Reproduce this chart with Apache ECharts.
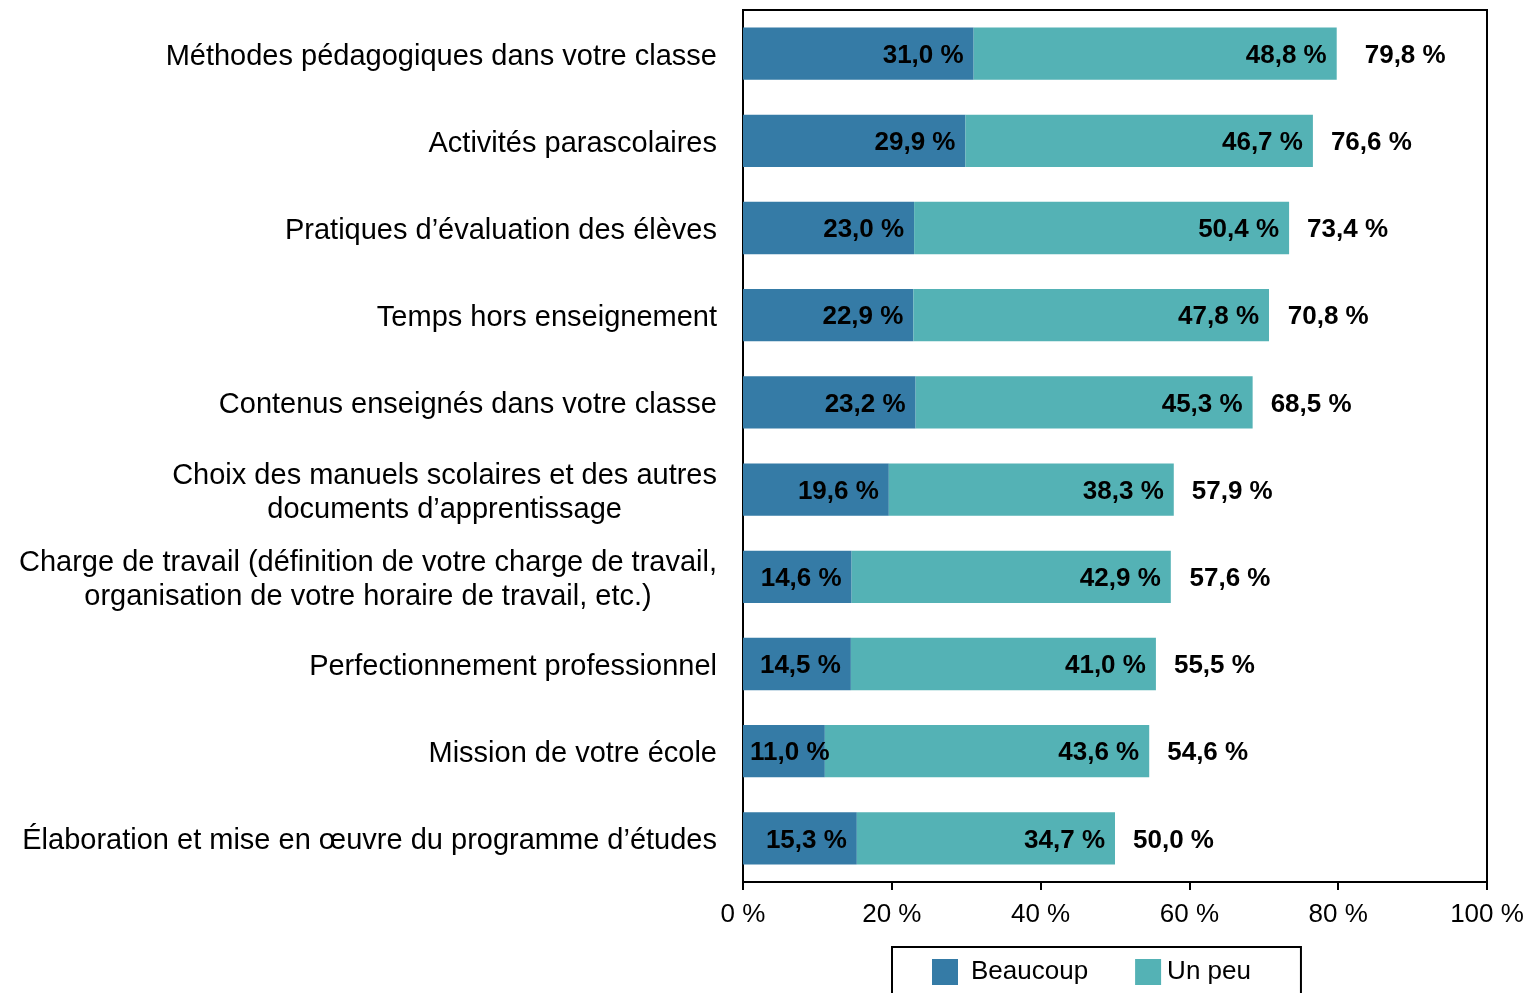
<!DOCTYPE html>
<html><head><meta charset="utf-8">
<script src="https://cdn.jsdelivr.net/npm/echarts@6/dist/echarts.min.js"></script>
<style>html,body{margin:0;padding:0;background:#fff}#c{width:1536px;height:993px}</style>
</head><body><div id="c"></div>
<script>
const categories = [
  "Méthodes pédagogiques dans votre classe",
  "Activités parascolaires",
  "Pratiques d’évaluation des élèves",
  "Temps hors enseignement",
  "Contenus enseignés dans votre classe",
  "Choix des manuels scolaires et des autres\ndocuments d’apprentissage",
  "Charge de travail (définition de votre charge de travail,\norganisation de votre horaire de travail, etc.)",
  "Perfectionnement professionnel",
  "Mission de votre école",
  "Élaboration et mise en œuvre du programme d’études"
];
const beaucoup = [31.0, 29.9, 23.0, 22.9, 23.2, 19.6, 14.6, 14.5, 11.0, 15.3];
const unPeu    = [48.8, 46.7, 50.4, 47.8, 45.3, 38.3, 42.9, 41.0, 43.6, 34.7];
const totals   = [79.8, 76.6, 73.4, 70.8, 68.5, 57.9, 57.6, 55.5, 54.6, 50.0];
const xTicks = [0, 20, 40, 60, 80, 100];

const FONT = '"Liberation Sans", Arial, sans-serif';
const fmt = v => v.toFixed(1).replace('.', ',') + ' %';
const labelStyle = {show: true, color: '#000', fontFamily: FONT, fontSize: 26, fontWeight: 'bold',
  offset: [0, 2], formatter: p => fmt(p.value)};

const chart = echarts.init(document.getElementById('c'));
chart.setOption({
  animation: false,
  grid: {left: 743, right: 49, top: 10, bottom: 111, show: true, borderColor: '#000', borderWidth: 2, containLabel: false},
  legend: {
    data: [
      {name: 'Beaucoup', textStyle: {padding: [3, 0, 0, 8]}},
      {name: 'Un peu', textStyle: {padding: [3, 0, 0, 1]}}
    ],
    left: 892, top: 947, orient: 'horizontal',
    padding: [12, 50, 40, 40],
    borderColor: '#000', borderWidth: 2,
    itemWidth: 26, itemHeight: 26, itemGap: 47,
    icon: 'rect',
    textStyle: {color: '#000', fontFamily: FONT, fontSize: 26}
  },
  xAxis: {
    type: 'value', min: 0, max: 100, interval: 20,
    axisLine: {show: true, lineStyle: {color: '#000', width: 2}},
    axisTick: {show: true, length: 8, lineStyle: {color: '#000', width: 2}},
    splitLine: {show: false},
    axisLabel: {color: '#000', fontFamily: FONT, fontSize: 26, margin: 20,
      formatter: v => xTicks.includes(v) ? v + ' %' : ''}
  },
  yAxis: {
    type: 'category', data: categories, inverse: true,
    axisLine: {show: true, lineStyle: {color: '#000', width: 2}},
    axisTick: {show: false},
    axisLabel: {color: '#000', fontFamily: FONT, fontSize: 29, margin: 26, lineHeight: 34,
      padding: [6, 0, 0, 0],
      formatter: v => v.includes('\n') ? v.split('\n').map(l => '{c|' + l + '}').join('\n') : v,
      rich: {c: {align: 'center', color: '#000', fontFamily: FONT, fontSize: 29, lineHeight: 34}}}
  },
  series: [
    {name: 'Beaucoup', type: 'bar', stack: 's', barCategoryGap: '40%',
      itemStyle: {color: '#357BA6'},
      label: Object.assign({}, labelStyle, {position: 'insideRight', distance: 10}),
      data: beaucoup.map(v => v < 12 ? {value: v, label: {position: 'insideLeft', distance: 7}} : v)},
    {name: 'Un peu', type: 'bar', stack: 's',
      itemStyle: {color: '#54B2B5'},
      label: Object.assign({}, labelStyle, {position: 'insideRight', distance: 10}),
      data: unPeu},
    {name: 'Total', type: 'bar', barGap: '-100%', silent: true,
      itemStyle: {color: 'rgba(0,0,0,0)'},
      label: Object.assign({}, labelStyle, {position: 'right', distance: 18}),
      data: totals.map((v, i) => i === 0 ? {value: v, label: {distance: 28}} : v)}
  ]
});
</script></body></html>
